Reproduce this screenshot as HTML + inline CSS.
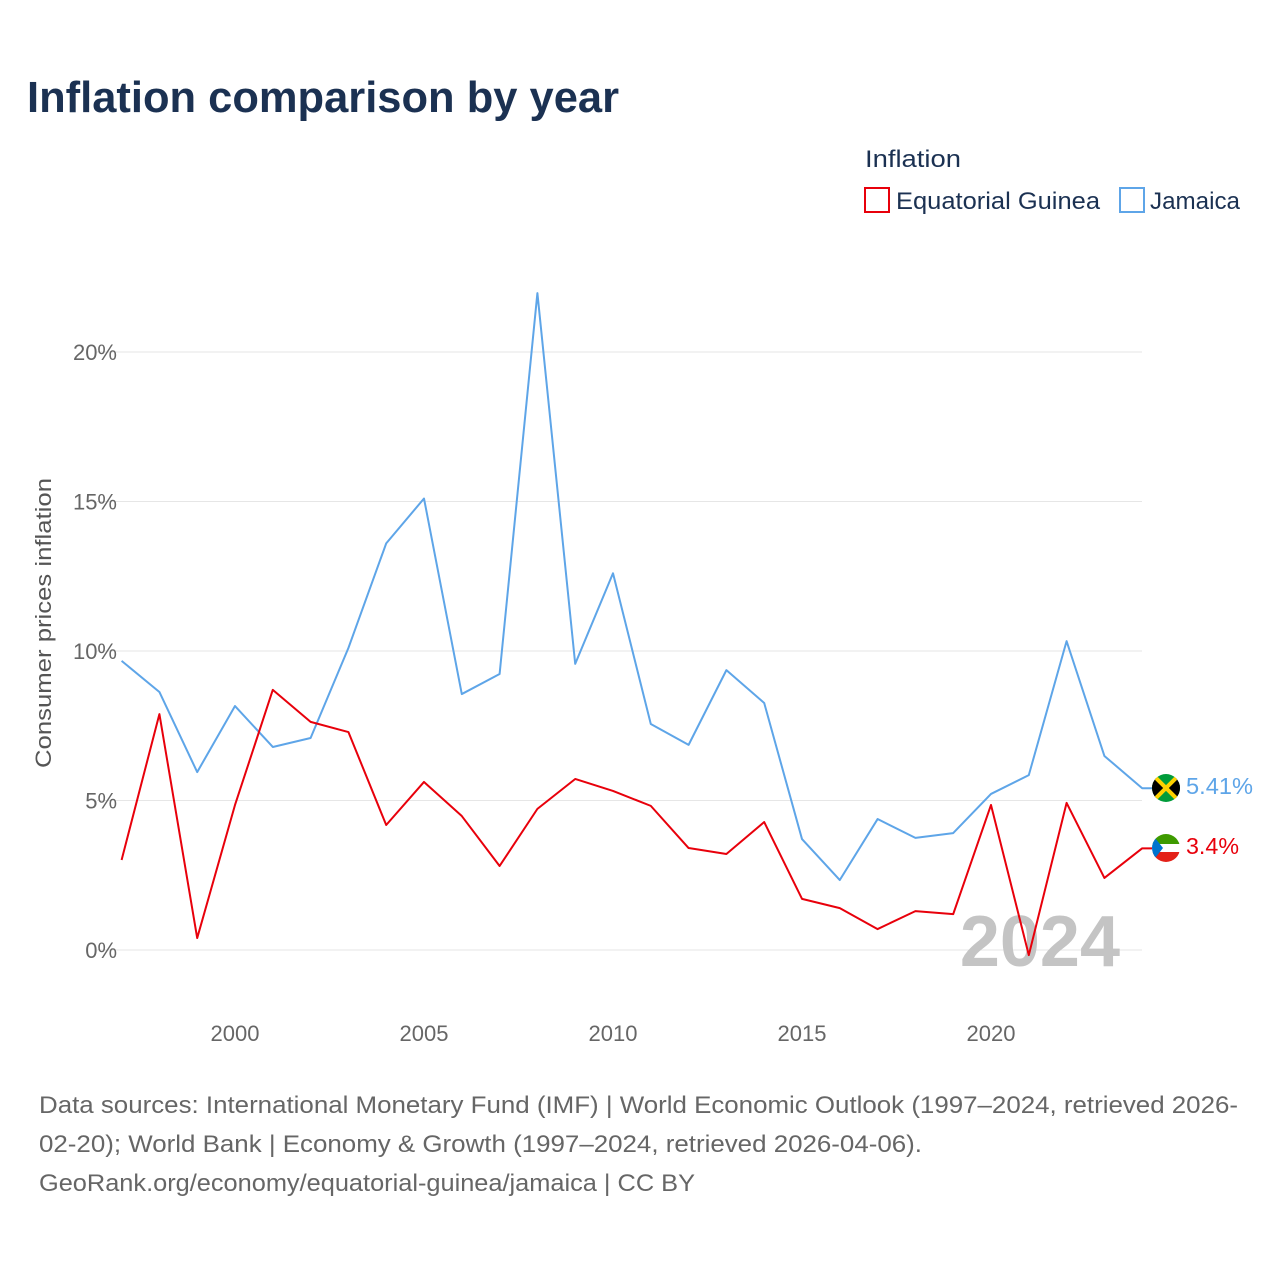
<!DOCTYPE html>
<html><head><meta charset="utf-8">
<style>
html,body{margin:0;padding:0;background:#fff;}
body{width:1280px;height:1280px;overflow:hidden;font-family:"Liberation Sans",sans-serif;}
</style></head>
<body>
<svg id="chart" width="1280" height="1280" xmlns="http://www.w3.org/2000/svg" font-family="Liberation Sans, sans-serif">
<text x="27" y="112" font-size="44" font-weight="bold" fill="#1b3152" textLength="592" lengthAdjust="spacingAndGlyphs">Inflation comparison by year</text>
<text x="865" y="167" font-size="24" fill="#1b3152" textLength="96" lengthAdjust="spacingAndGlyphs">Inflation</text>
<g>
<rect x="865" y="188" width="24" height="24" fill="#fff" stroke="#e8000b" stroke-width="2"/>
<text x="896" y="209" font-size="24" fill="#1b3152" textLength="204" lengthAdjust="spacingAndGlyphs">Equatorial Guinea</text></g>
<g>
<rect x="1120" y="188" width="24" height="24" fill="#fff" stroke="#5ea5e8" stroke-width="2"/>
<text x="1150" y="209" font-size="24" fill="#1b3152" textLength="90" lengthAdjust="spacingAndGlyphs">Jamaica</text></g>
<text transform="translate(51,623) rotate(-90)" text-anchor="middle" font-size="22" fill="#555" textLength="290" lengthAdjust="spacingAndGlyphs">Consumer prices inflation</text>
<g id="grid"></g><g id="xticks"></g>
<text x="1120" y="966" text-anchor="end" font-size="72" font-weight="bold" fill="#c4c4c4">2024</text>
<g id="series"></g>
<g>
<clipPath id="cj"><circle cx="1166" cy="788" r="14"/></clipPath>
<g clip-path="url(#cj)"><rect x="1152" y="774" width="28" height="28" fill="#009b3a"/>
<polygon points="1152,774 1166,788 1152,802" fill="#000"/><polygon points="1180,774 1166,788 1180,802" fill="#000"/>
<line x1="1152" y1="774" x2="1180" y2="802" stroke="#fed100" stroke-width="4"/><line x1="1180" y1="774" x2="1152" y2="802" stroke="#fed100" stroke-width="4"/></g></g>
<g>
<clipPath id="ce"><circle cx="1166" cy="848" r="14"/></clipPath>
<g clip-path="url(#ce)"><rect x="1152" y="834" width="28" height="10" fill="#3e9a00"/>
<rect x="1152" y="844" width="28" height="8" fill="#fff"/><rect x="1152" y="852" width="28" height="10" fill="#e32118"/>
<polygon points="1152,834 1163,848 1152,862" fill="#0073ce"/></g></g>
<text x="1186" y="794" font-size="23" fill="#5ea5e8" textLength="67" lengthAdjust="spacingAndGlyphs">5.41%</text>
<text x="1186" y="854" font-size="23" fill="#e8000b" textLength="53" lengthAdjust="spacingAndGlyphs">3.4%</text>
<g font-size="24" fill="#666">
<text x="39" y="1113" textLength="1199" lengthAdjust="spacingAndGlyphs">Data sources: International Monetary Fund (IMF) | World Economic Outlook (1997–2024, retrieved 2026-</text>
<text x="39" y="1152" textLength="883" lengthAdjust="spacingAndGlyphs">02-20); World Bank | Economy &amp; Growth (1997–2024, retrieved 2026-04-06).</text>
<text x="39" y="1191" textLength="656" lengthAdjust="spacingAndGlyphs">GeoRank.org/economy/equatorial-guinea/jamaica | CC BY</text></g>
</svg>
<script>
const years=[1997,1998,1999,2000,2001,2002,2003,2004,2005,2006,2007,2008,2009,2010,2011,2012,2013,2014,2015,2016,2017,2018,2019,2020,2021,2022,2023,2024];
const jamaica=[9.67,8.63,5.95,8.16,6.79,7.09,10.1,13.6,15.1,8.56,9.23,21.97,9.57,12.6,7.56,6.86,9.36,8.26,3.71,2.34,4.38,3.75,3.91,5.22,5.85,10.33,6.49,5.41];
const eqGuinea=[3.01,7.89,0.40,4.85,8.70,7.63,7.29,4.18,5.62,4.48,2.81,4.72,5.72,5.32,4.82,3.41,3.21,4.28,1.71,1.40,0.70,1.30,1.20,4.85,-0.17,4.92,2.41,3.4];
const yTicks=[0,5,10,15,20];
const xTicks=[2000,2005,2010,2015,2020];
const NS="http://www.w3.org/2000/svg";
const x=v=>121.6+(v-1997)*37.8;
const y=v=>950-v*29.9;
const grid=document.getElementById('grid');
yTicks.forEach(t=>{
 const l=document.createElementNS(NS,'line');
 l.setAttribute('x1',97);l.setAttribute('x2',1142);l.setAttribute('y1',y(t));l.setAttribute('y2',y(t));
 l.setAttribute('stroke','#e6e6e6');l.setAttribute('stroke-width',1);
 
 
 grid.appendChild(l);
 const tx=document.createElementNS(NS,'text');
 tx.setAttribute('x',117);tx.setAttribute('y',y(t)+8);tx.setAttribute('text-anchor','end');
 tx.setAttribute('font-size',22);tx.setAttribute('fill','#666');tx.textContent=t+'%';
 
 
 grid.appendChild(tx);
});
const xt=document.getElementById('xticks');
xTicks.forEach(t=>{
 const tx=document.createElementNS(NS,'text');
 tx.setAttribute('x',x(t));tx.setAttribute('y',1041);tx.setAttribute('text-anchor','middle');
 tx.setAttribute('font-size',22);tx.setAttribute('fill','#666');tx.textContent=t;
 
 
 xt.appendChild(tx);
});
const s=document.getElementById('series');
function line(vals,color,name){
 const p=document.createElementNS(NS,'polyline');
 p.setAttribute('points',vals.map((v,i)=>x(years[i])+','+y(v)).join(' ')+' '+(x(2024)+10)+','+y(vals[vals.length-1]));
 p.setAttribute('fill','none');p.setAttribute('stroke',color);p.setAttribute('stroke-width',2);
 p.setAttribute('stroke-linejoin','round');
 
 
 s.appendChild(p);
}
line(jamaica,'#5ea5e8','jamaica-line');
line(eqGuinea,'#e8000b','equatorial-guinea-line');
</script>
</body></html>
